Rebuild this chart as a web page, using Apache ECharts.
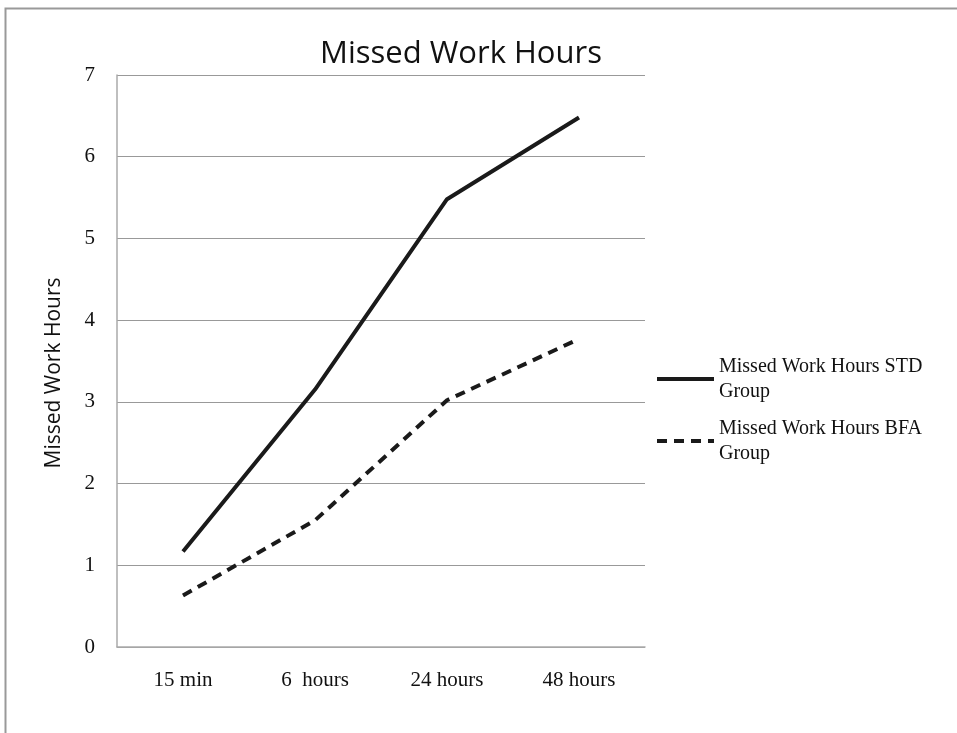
<!DOCTYPE html>
<html>
<head>
<meta charset="utf-8">
<script src="https://cdn.jsdelivr.net/npm/echarts@6/dist/echarts.min.js"></script>
<style>
  html, body { margin: 0; padding: 0; background: #fff; }
  #main { width: 957px; height: 733px; }
</style>
</head>
<body>
<div id="main"></div>
<script>
  // data
  var categories = ['15 min', '6  hours', '24 hours', '48 hours'];
  var stdGroup = [1.17, 3.15, 5.48, 6.48];
  var bfaGroup = [0.63, 1.55, 3.02, 3.77];
  var yTicks = [0, 1, 2, 3, 4, 5, 6, 7];

  var serif = '"Liberation Serif", "DejaVu Serif", serif';
  var sans = '"Open Sans", "Noto Sans", sans-serif';

  var chart = echarts.init(document.getElementById('main'));

  chart.setOption({
    animation: false,
    title: {
      text: 'Missed Work Hours',
      left: 456,
      textAlign: 'center',
      top: 34,
      textStyle: { fontFamily: sans, fontSize: 31, fontWeight: 'normal', color: '#111' }
    },
    graphic: [{
      type: 'rect',
      shape: { x: 5.5, y: 8.5, width: 960, height: 740 },
      style: { fill: 'none', stroke: '#999', lineWidth: 2 },
      silent: true
    }],
    grid: { left: 117, top: 75, width: 528, height: 572 },
    legend: {
      orient: 'vertical',
      left: 650,
      top: 349,
      itemWidth: 57,
      itemHeight: 14,
      itemGap: 12,
      itemStyle: { opacity: 0 },
      lineStyle: { width: 4 },
      formatter: function (name) { return name.replace(' Group', '\nGroup'); },
      textStyle: { fontFamily: serif, fontSize: 20, color: '#111', lineHeight: 25 },
      data: ['Missed Work Hours STD Group', 'Missed Work Hours BFA Group']
    },
    xAxis: {
      type: 'category',
      data: categories,
      axisLine: { lineStyle: { color: '#aaa', width: 1.5 } },
      axisTick: { show: false },
      axisLabel: { margin: 23, fontFamily: serif, fontSize: 21, color: '#111' }
    },
    yAxis: {
      type: 'value',
      min: yTicks[0],
      max: yTicks[yTicks.length - 1],
      interval: 1,
      name: 'Missed Work Hours',
      nameLocation: 'middle',
      nameGap: 52,
      nameTextStyle: { fontFamily: sans, fontSize: 21, color: '#111', padding: [0, 24, 0, 0] },
      axisLine: { show: true, lineStyle: { color: '#aaa', width: 1.5 } },
      axisTick: { show: false },
      axisLabel: { margin: 22, fontFamily: serif, fontSize: 21, color: '#111' },
      splitLine: { lineStyle: { color: '#999', width: 1 } }
    },
    series: [
      {
        name: 'Missed Work Hours STD Group',
        type: 'line',
        data: stdGroup,
        symbol: 'none',
        lineStyle: { color: '#1a1a1a', width: 4 },
        itemStyle: { color: '#1a1a1a' }
      },
      {
        name: 'Missed Work Hours BFA Group',
        type: 'line',
        data: bfaGroup,
        symbol: 'none',
        lineStyle: { color: '#1a1a1a', width: 4, type: [10, 7] },
        itemStyle: { color: '#1a1a1a' }
      }
    ]
  });
</script>
</body>
</html>
